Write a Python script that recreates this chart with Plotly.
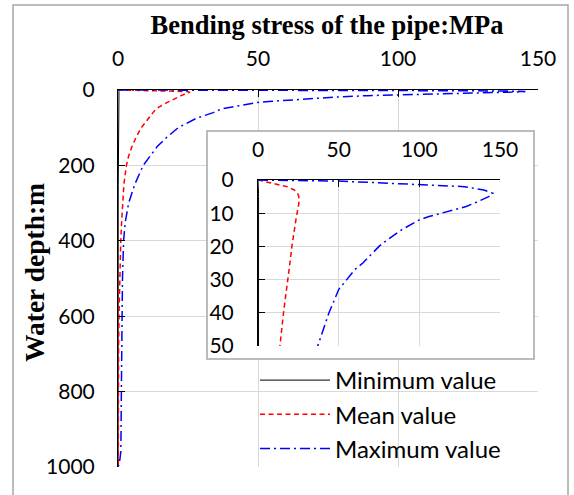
import plotly.graph_objects as go

# ---------------- data ----------------
depth = [0, 0.3, 1, 1.5, 2, 3, 4, 5, 6, 7, 8, 9, 10, 11, 12, 15, 19, 20, 25, 27, 30, 33, 40,
         50, 60, 75, 100, 125, 150, 175, 200, 250, 300, 350, 400, 500, 600, 700, 800, 900,
         960, 990, 1000]
min_val = [0, 0.05, 0.15, 0.2, 0.25, 0.3, 0.35, 0.35, 0.35, 0.33, 0.3, 0.3, 0.3, 0.3, 0.3,
           0.28, 0.26, 0.25, 0.24, 0.23, 0.22, 0.21, 0.2, 0.18, 0.17, 0.15, 0.14, 0.12, 0.11,
           0.1, 0.1, 0.09, 0.08, 0.08, 0.07, 0.06, 0.06, 0.05, 0.05, 0.05, 0.05, 0.04, 0.03]
mean_val = [0, 3, 9, 14, 18, 22.5, 24.5, 25.3, 25.5, 25.3, 25, 24.5, 24, 23.8, 23.5, 22.5,
            21.3, 21, 19.8, 19.2, 18.4, 17.6, 15.8, 13.6, 12.5, 11.0, 8.3, 6.5, 5.0, 3.8, 3.0,
            2.1, 1.6, 1.3, 1.0, 0.6, 0.35, 0.2, 0.15, 0.12, 0.1, 0.1, 0.1]
max_val = [0, 49, 82, 110, 128, 140, 145.5, 143, 139, 134, 129, 121, 114, 106, 100, 89, 77.5,
           75, 65, 60, 55, 50, 44, 37, 34, 28, 21.5, 17.5, 14, 11.5, 9, 6, 3.8, 2.6, 2.0,
           1.6, 1.4, 1.3, 1.2, 1.1, 1.0, 0.5, 0]

series_names = ["Minimum value", "Mean value", "Maximum value"]
x_ticks = [0, 50, 100, 150]
main_y_ticks = [0, 200, 400, 600, 800, 1000]
inset_y_ticks = [0, 10, 20, 30, 40, 50]

# ---------------- layout geometry ----------------
W, H = 574, 495
def px_x(p):
    return p / W
def px_y(p):
    return 1 - p / H

# main plot area in pixels and its data ranges (used to place the inset box)
MX0, MX1, MY0, MY1 = 118, 538, 90, 467
XR, YR = 150.0, 1000.0
def dx(p):
    return (p - MX0) / (MX1 - MX0) * XR
def dy(p):
    return (p - MY0) / (MY1 - MY0) * YR

tick_font = dict(family="Lato", size=21, color="black")
serif_bold = dict(family="Liberation Serif", size=26.5, color="black")

styles = [
    dict(color="black", width=1, dash="solid"),
    dict(color="red", width=1.5, dash="5px,3.5px"),
    dict(color="blue", width=1.5, dash="10px,4px,2px,4px"),
]
values = [min_val, mean_val, max_val]

fig = go.Figure()
for name, vals, st in zip(series_names, values, styles):
    fig.add_trace(go.Scatter(x=vals, y=depth, mode="lines", name=name, line=st,
                             xaxis="x", yaxis="y", legendgroup=name, showlegend=True))
for name, vals, st in zip(series_names, values, styles):
    fig.add_trace(go.Scatter(x=vals, y=depth, mode="lines", name=name, line=st,
                             xaxis="x2", yaxis="y2", legendgroup=name, showlegend=False))

axis_common = dict(showline=True, linecolor="black", linewidth=1, ticks="inside",
                   ticklen=7, tickcolor="black", tickwidth=1, showgrid=True,
                   gridcolor="#d9d9d9", gridwidth=1, zeroline=False, tickfont=tick_font)

fig.update_layout(
    width=W, height=H, margin=dict(l=0, r=0, t=0, b=0, autoexpand=False),
    paper_bgcolor="white", plot_bgcolor="white",
    xaxis=dict(domain=[px_x(MX0), px_x(MX1)], range=[0, XR], side="top",
               tickvals=x_ticks, anchor="y", ticklabelstandoff=15, **axis_common),
    yaxis=dict(domain=[px_y(MY1), px_y(MY0)], range=[YR, 0], tickvals=main_y_ticks,
               anchor="x", ticklabelstandoff=18, **axis_common),
    xaxis2=dict(domain=[px_x(258), px_x(500)], range=[0, 150], side="top",
                tickvals=x_ticks, anchor="y2", ticklabelstandoff=14, **axis_common),
    yaxis2=dict(domain=[px_y(346), px_y(180)], range=[50, 0], tickvals=inset_y_ticks,
                anchor="x2", ticklabelstandoff=19, **axis_common),
    showlegend=True,
    legend=dict(x=px_x(255), y=px_y(358), xanchor="left", yanchor="top",
                bgcolor="rgba(0,0,0,0)", font=dict(family="Lato", size=24, color="black"),
                itemwidth=70, tracegroupgap=0, traceorder="normal"),
    title=dict(text="<b>Bending stress of the pipe:MPa</b>", x=px_x(327), y=px_y(25),
               xanchor="center", yanchor="middle", font=serif_bold),
    annotations=[dict(text="<b>Water depth:m</b>", x=px_x(34), y=px_y(273), xref="paper",
                      yref="paper", textangle=-90, showarrow=False,
                      font=dict(family="Liberation Serif", size=27.5, color="black"),
                      xanchor="center", yanchor="middle")],
    shapes=[
        # outer chart border
        dict(type="rect", xref="paper", yref="paper", x0=px_x(13), x1=px_x(568),
             y0=px_y(505), y1=px_y(5), line=dict(color="#a6a6a6", width=1.5),
             fillcolor="rgba(0,0,0,0)", layer="below"),
        # inset chart box (white, covers main grid)
        dict(type="rect", xref="x", yref="y",
             x0=dx(207), x1=dx(534), y0=dy(131), y1=dy(359),
             line=dict(color="#a6a6a6", width=1.5), fillcolor="white", layer="between"),
    ],
)

fig.write_html("out.html")
